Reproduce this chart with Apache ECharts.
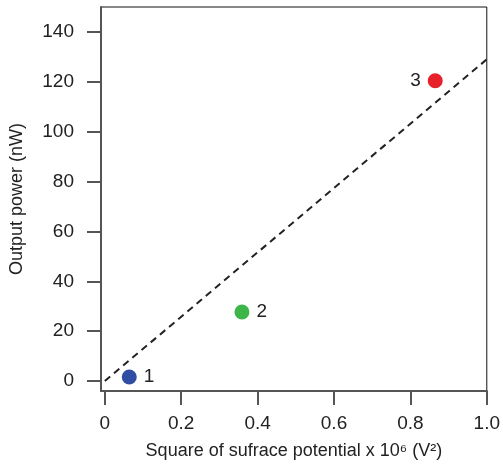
<!DOCTYPE html>
<html>
<head>
<meta charset="utf-8">
<script src="https://cdn.jsdelivr.net/npm/echarts@6/dist/echarts.min.js"></script>
<style>
  html, body { margin: 0; padding: 0; background: #fff; }
  #chart { width: 503px; height: 465px; }
</style>
</head>
<body>
<div id="chart"></div>
<script>
// measured points (x = V^2 x 10^6, y = nW)
const pointNames = ['1', '2', '3']
const pointX = [0.064, 0.359, 0.865]
const pointY = [1.6, 27.7, 120.4]
const pointColors = ['#2f4ea3', '#3cb649', '#e6212a']
const labelPos = ['right', 'right', 'left']
// dashed fit line end points
const fitX = [0, 1.0]
const fitY = [0, 129]
const xTicks = [0, 0.2, 0.4, 0.6, 0.8, 1.0]
const yTicks = [0, 20, 40, 60, 80, 100, 120, 140]

const font = '"Liberation Sans", Arial, sans-serif'
const chart = echarts.init(document.getElementById('chart'))

const pointSeries = pointNames.map((name, i) => {
    return {
        type: 'scatter',
        symbolSize: 15,
        itemStyle: { color: pointColors[i], opacity: 1 },
        label: {
            show: true,
            position: labelPos[i],
            distance: 7,
            formatter: name,
            color: '#222',
            fontSize: 19,
            fontFamily: font
        },
        data: [[pointX[i], pointY[i]]],
        z: 3
    }
})

const option = {
    animation: false,
    grid: {
        left: 100, right: 14, top: 7, bottom: 71,
        show: true, borderColor: '#111', borderWidth: 1
    },
    xAxis: {
        type: 'value',
        min: -0.01, max: 1.0,
        splitLine: { show: false },
        axisLine: { onZero: false, lineStyle: { color: '#555', width: 2 } },
        axisTick: { customValues: xTicks, length: 14, lineStyle: { color: '#555', width: 2 } },
        axisLabel: {
            customValues: xTicks,
            formatter: v => v === 0 ? '0' : v.toFixed(1),
            color: '#222', fontSize: 19, fontFamily: font, margin: 23
        },
        name: 'Square of sufrace potential x 10\u2076 (V\u00B2)',
        nameLocation: 'middle',
        nameGap: 51,
        nameTextStyle: { color: '#222', fontSize: 18, fontFamily: font }
    },
    yAxis: {
        type: 'value',
        min: -4, max: 150,
        splitLine: { show: false },
        axisLine: { onZero: false, lineStyle: { color: '#555', width: 2 } },
        axisTick: { customValues: yTicks, length: 14, lineStyle: { color: '#555', width: 2 } },
        axisLabel: {
            customValues: yTicks,
            color: '#222', fontSize: 19, fontFamily: font, margin: 27
        },
        name: 'Output power (nW)',
        nameLocation: 'middle',
        nameGap: 75,
        nameTextStyle: { color: '#222', fontSize: 18, fontFamily: font }
    },
    series: [
        {
            type: 'line',
            data: fitX.map((x, i) => [x, fitY[i]]),
            symbol: 'none',
            lineStyle: { color: '#222', width: 2, type: [7, 5] },
            z: 2
        },
        ...pointSeries
    ]
}
chart.setOption(option)
</script>
</body>
</html>
